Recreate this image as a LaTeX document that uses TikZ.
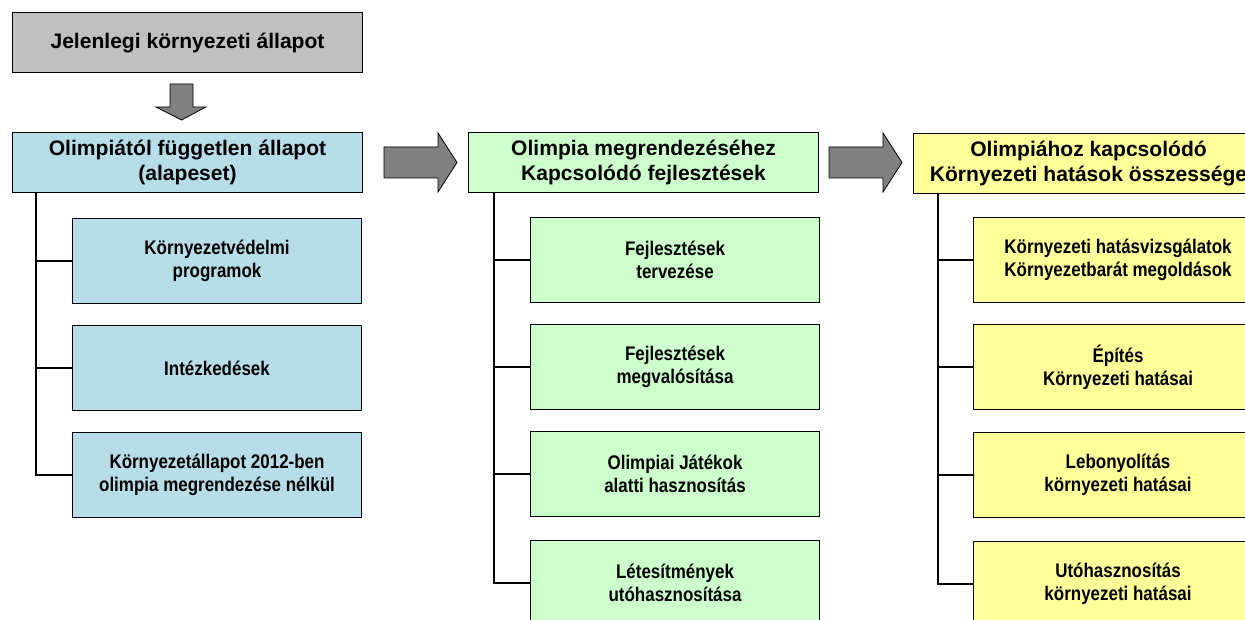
\documentclass[tikz,border=0pt]{standalone}
\usepackage{fontspec}
\setmainfont{Liberation Sans}
\newfontfamily\narrowfont[FakeStretch=0.86]{Liberation Sans}
\usetikzlibrary{positioning,calc}
\definecolor{stGray}{RGB}{192,192,192}
\definecolor{stArrow}{RGB}{128,128,128}
\definecolor{stBlue}{RGB}{183,222,232}
\definecolor{stGreen}{RGB}{204,255,204}
\definecolor{stYellow}{RGB}{255,255,153}

\begin{document}
\begin{tikzpicture}[
  x=0.75pt, y=-0.75pt,
  head/.style={draw, line width=0.8pt, anchor=north west, minimum width=262.5pt, minimum height=45pt,
    inner sep=2pt, align=center, font=\fontsize{15.8}{18.8}\selectfont\bfseries},
  sub/.style={draw, line width=0.8pt, anchor=north west, minimum width=216.75pt, minimum height=63.75pt,
    inner sep=2pt, align=center, font=\narrowfont\fontsize{14.8}{17.3}\selectfont\bfseries},
  link/.style={line width=1.1pt},
  blk/.style={draw=black, line width=0.6pt, fill=stArrow},
]
\useasboundingbox (0,0) rectangle (1245,620);
\clip (0,0) rectangle (1245,620);

% top state
\node[head, fill=stGray] (cur) at (12,12) {Jelenlegi környezeti állapot};
\draw[blk] (170,84) -- (193,84) -- (193,107) -- (206,107) -- (181.5,120) -- (156,107) -- (170,107) -- cycle;

% baseline column
\node[head, fill=stBlue] (base) at (12,132) {Olimpiától független állapot\\(alapeset)};
\node[sub, fill=stBlue] (b1) at (72,218) {Környezetvédelmi\\programok};
\node[sub, fill=stBlue] (b2) at (72,325) {Intézkedések};
\node[sub, fill=stBlue] (b3) at (72,432) {Környezetállapot 2012-ben\\olimpia megrendezése nélkül};

% development column
\node[head, fill=stGreen] (dev) at (468,132) {Olimpia megrendezéséhez\\Kapcsolódó fejlesztések};
\node[sub, fill=stGreen] (d1) at (530,217) {Fejlesztések\\tervezése};
\node[sub, fill=stGreen] (d2) at (530,324) {Fejlesztések\\megvalósítása};
\node[sub, fill=stGreen] (d3) at (530,431) {Olimpiai Játékok\\alatti hasznosítás};
\node[sub, fill=stGreen] (d4) at (530,540) {Létesítmények\\utóhasznosítása};

% impact column
\node[head, fill=stYellow] (imp) at (913,133) {Olimpiához kapcsolódó\\Környezeti hatások összessége};
\node[sub, fill=stYellow] (i1) at (973,217) {Környezeti hatásvizsgálatok\\Környezetbarát megoldások};
\node[sub, fill=stYellow] (i2) at (973,324) {Építés\\Környezeti hatásai};
\node[sub, fill=stYellow] (i3) at (973,432) {Lebonyolítás\\környezeti hatásai};
\node[sub, fill=stYellow] (i4) at (973,541) {Utóhasznosítás\\környezeti hatásai};

% block arrows between columns
\draw[blk] (384,147) -- (438,147) -- (438,133) -- (457,162.5) -- (438,192) -- (438,178) -- (384,178) -- cycle;
\draw[blk] (829,147) -- (883,147) -- (883,133) -- (902,162.5) -- (883,192) -- (883,178) -- (829,178) -- cycle;

% tree links
\draw[link] ($(base.south west)+(24,0)$) coordinate (bt) |- (b3.west);
\foreach \n in {b1,b2} \draw[link] (bt |- \n.west) -- (\n.west);
\draw[link] ($(dev.south west)+(26,0)$) coordinate (dt) |- (d4.west);
\foreach \n in {d1,d2,d3} \draw[link] (dt |- \n.west) -- (\n.west);
\draw[link] ($(imp.south west)+(25,0)$) coordinate (it) |- (i4.west);
\foreach \n in {i1,i2,i3} \draw[link] (it |- \n.west) -- (\n.west);
\end{tikzpicture}
\end{document}
